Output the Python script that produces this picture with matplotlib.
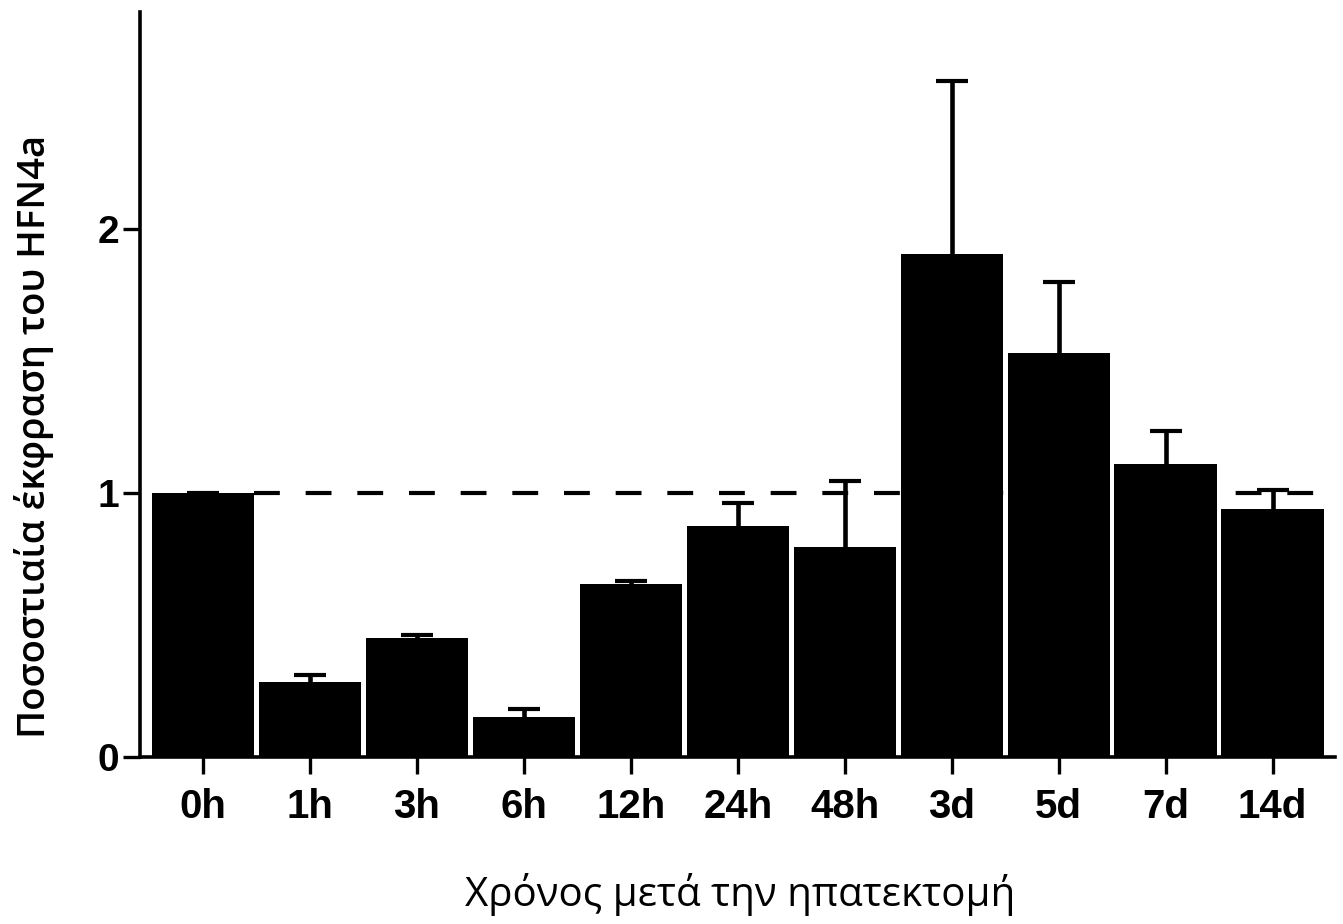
import matplotlib
matplotlib.use("Agg")
import matplotlib.pyplot as plt
import numpy as np

categories = ["0h", "1h", "3h", "6h", "12h", "24h", "48h", "3d", "5d", "7d", "14d"]
means = [1.00, 0.285, 0.45, 0.15, 0.655, 0.875, 0.795, 1.905, 1.53, 1.11, 0.94]
err_up = [0.0, 0.025, 0.012, 0.03, 0.01, 0.087, 0.25, 0.655, 0.27, 0.125, 0.07]
yticks = [0, 1, 2]
reference_level = 1.0
xlabel = "Χρόνος μετά την ηπατεκτομή"
ylabel = "Ποσοστιαία έκφραση του HFN4a"

fig = plt.figure(figsize=(13.43, 9.24), dpi=100)
ax = fig.add_axes([0.1042, 0.1807, 0.8895, 0.806])

x = np.arange(len(categories))
bar_w = 0.955
ax.hlines(reference_level, x[0] + bar_w / 2, x[-1] + 0.6, colors="black",
          lw=3, linestyles=(0, (6.2, 6.2)), zorder=1, clip_on=False)
ax.bar(x, means, width=bar_w, color="black", linewidth=0, zorder=2)
eb = ax.errorbar(x, means, yerr=[np.zeros(len(means)), err_up], fmt="none",
                 ecolor="black", elinewidth=3.3, capsize=11.5, capthick=3, zorder=3)
# only upper caps, as in the reference
eb[1][0].set_visible(False)

ax.set_xlim(-0.59, 10.58)
ax.set_ylim(0, 2.82)
ax.set_xticks(x)
ax.set_xticklabels(categories, fontfamily="Liberation Sans", fontweight="bold", fontsize=29)
ax.set_yticks(yticks)
ax.set_yticklabels([str(v) for v in yticks], fontfamily="Liberation Sans", fontweight="bold", fontsize=28)
ax.tick_params(axis="x", width=2.4, length=12, direction="out", pad=10)
ax.tick_params(axis="y", width=2.4, length=12, direction="out", pad=3)

for s in ["top", "right"]:
    ax.spines[s].set_visible(False)
for s in ["left", "bottom"]:
    ax.spines[s].set_linewidth(2.6)

ax.set_xlabel(xlabel, fontfamily="Open Sans", fontweight="medium", fontsize=29, va="center")
ax.xaxis.set_label_coords(0.502, -0.185)
ax.set_ylabel(ylabel, fontfamily="Open Sans", fontweight="semibold", fontsize=27.5, va="center")
ax.yaxis.set_label_coords(-0.089, 0.43)

fig.savefig("out.png", dpi=100, facecolor="white")
